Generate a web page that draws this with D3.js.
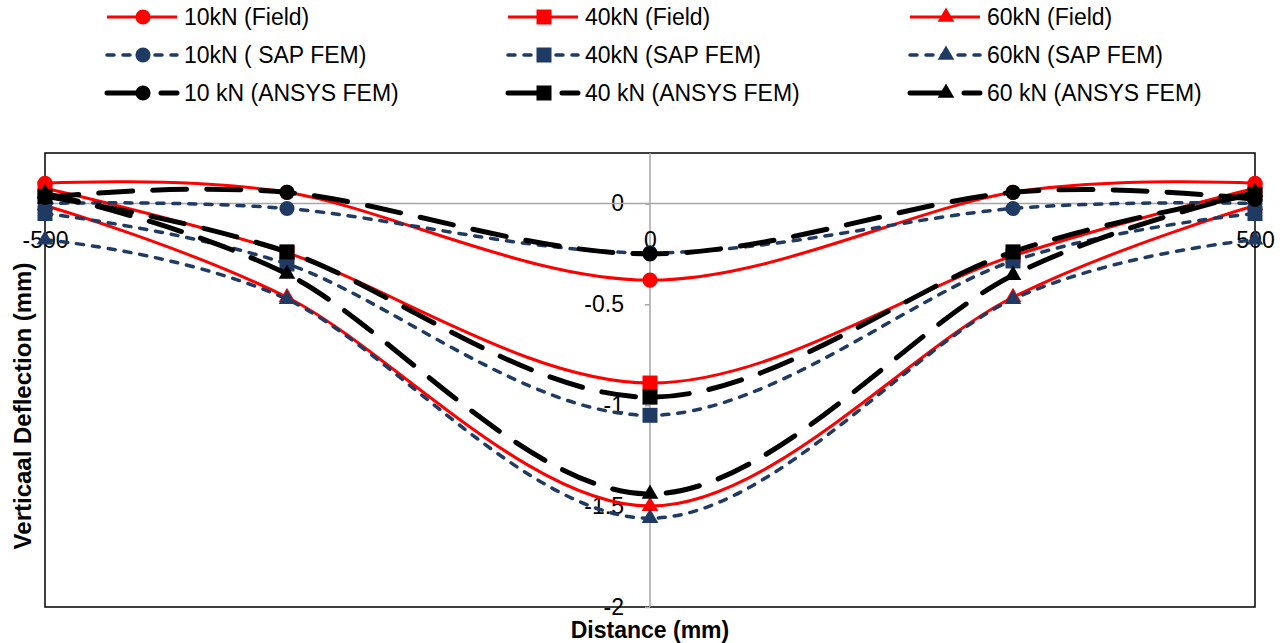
<!DOCTYPE html>
<html>
<head>
<meta charset="utf-8">
<script src="https://cdn.jsdelivr.net/npm/d3@7"></script>
<style>
  html, body { margin: 0; padding: 0; background: #fff; }
  svg { display: block; font-family: "Liberation Sans", Arial, sans-serif; }
</style>
</head>
<body>
<svg id="chart" width="1285" height="643"></svg>
<script>
// Measurement stations along the slab (mm)
const distance = [-500, -300, 0, 300, 500];

// Vertical deflection (mm) at each station
const field10 = [0.10, 0.055, -0.38, 0.055, 0.10];
const field40 = [0.075, -0.245, -0.89, -0.26, 0.075];
const field60 = [-0.01, -0.465, -1.50, -0.465, -0.01];

const sap10 = [0.0, -0.025, -0.245, -0.025, 0.0];
const sap40 = [-0.05, -0.30, -1.05, -0.285, -0.05];
const sap60 = [-0.18, -0.475, -1.56, -0.475, -0.18];

const ansys10 = [0.03, 0.055, -0.25, 0.055, 0.02];
const ansys40 = [0.035, -0.24, -0.96, -0.24, 0.045];
const ansys60 = [0.05, -0.35, -1.44, -0.355, 0.055];

const seriesNames = [
  "10kN (Field)", "40kN (Field)", "60kN (Field)",
  "10kN ( SAP FEM)", "40kN (SAP FEM)", "60kN (SAP FEM)",
  "10 kN (ANSYS FEM)", "40 kN (ANSYS FEM)", "60 kN (ANSYS FEM)"
];
const seriesValues = [field10, field40, field60, sap10, sap40, sap60, ansys10, ansys40, ansys60];

const yTicks = [0, -0.5, -1, -1.5, -2];
const xTicks = [-500, 0, 500];

// Line styles per method, marker per load
const styles = {
  field: { color: "#FF0000", width: 3, dash: null, cap: "butt" },
  sap:   { color: "#1F3A63", width: 3.5, dash: "7,9", cap: "round" },
  ansys: { color: "#000000", width: 5, dash: "34,20", cap: "round" }
};
const methodOf = i => ["field", "sap", "ansys"][Math.floor(i / 3)];
const symbolOf = i => [d3.symbolCircle, d3.symbolSquare, d3.symbolTriangle][i % 3];
const symbolSize = i => [180, 225, 120][i % 3];

const series = seriesNames.map((name, i) => ({
  name,
  style: styles[methodOf(i)],
  symbol: symbolOf(i),
  size: symbolSize(i),
  points: distance.map((d, j) => ({ x: d, y: seriesValues[i][j] }))
}));

const svg = d3.select("#chart");
const plot = { left: 45, right: 1255, top: 153, bottom: 607 };

const x = d3.scaleLinear().domain([-500, 500]).range([plot.left, plot.right]);
const y = d3.scaleLinear().domain([-2, 0.25]).range([plot.bottom, plot.top]);

// Plot area frame
svg.append("rect")
  .attr("x", plot.left).attr("y", plot.top)
  .attr("width", plot.right - plot.left).attr("height", plot.bottom - plot.top)
  .attr("fill", "#fff").attr("stroke", "#000").attr("stroke-width", 1.5);

const fmt = d => String(d);

// Vertical axis through x = 0
const yAxis = svg.append("g")
  .attr("transform", `translate(${x(0)},0)`)
  .call(d3.axisLeft(y).tickValues(yTicks).tickFormat(fmt).tickSize(5).tickPadding(21));
yAxis.select(".domain").attr("stroke", "#A6A6A6").attr("stroke-width", 1.5)
  .attr("d", `M0,${plot.top}V${plot.bottom}`);
yAxis.selectAll(".tick line").attr("stroke", "#A6A6A6").attr("stroke-width", 1.5);
yAxis.selectAll(".tick text").attr("font-size", 23).attr("fill", "#000")
  .attr("font-family", "'Liberation Sans', Arial, sans-serif");

// Horizontal axis through y = 0
const xAxis = svg.append("g")
  .attr("transform", `translate(0,${y(0)})`)
  .call(d3.axisBottom(x).tickValues(xTicks).tickFormat(fmt).tickSize(0));
xAxis.select(".domain").attr("stroke", "#A6A6A6").attr("stroke-width", 1.5)
  .attr("d", `M${plot.left},0H${plot.right}`);
xAxis.selectAll(".tick text").attr("font-size", 23).attr("fill", "#000")
  .attr("y", 37).attr("dy", "0.35em")
  .attr("font-family", "'Liberation Sans', Arial, sans-serif");

// Series lines and markers
const line = d3.line()
  .x(d => x(d.x)).y(d => y(d.y))
  .curve(d3.curveCardinal.tension(0));

const seriesG = svg.append("g");
series.forEach(s => {
  const g = seriesG.append("g");
  g.append("path")
    .attr("d", line(s.points))
    .attr("fill", "none")
    .attr("stroke", s.style.color)
    .attr("stroke-width", s.style.width)
    .attr("stroke-dasharray", s.style.dash)
    .attr("stroke-linecap", s.style.cap);
  g.selectAll("path.marker")
    .data(s.points)
    .join("path")
    .attr("class", "marker")
    .attr("transform", d => `translate(${x(d.x)},${y(d.y)})`)
    .attr("d", d3.symbol().type(s.symbol).size(s.size))
    .attr("fill", s.style.color);
});

// Legend: three columns, one row per method
const legendCols = [107, 508, 910];
const legendRows = [17, 55, 93];
const legend = svg.append("g");
series.forEach((s, i) => {
  const cx = legendCols[i % 3];
  const cy = legendRows[Math.floor(i / 3)];
  const g = legend.append("g").attr("transform", `translate(${cx},${cy})`);
  g.append("line")
    .attr("x1", 0).attr("x2", 70).attr("y1", 0).attr("y2", 0)
    .attr("stroke", s.style.color)
    .attr("stroke-width", s.style.width)
    .attr("stroke-dasharray", s.style.dash)
    .attr("stroke-linecap", s.style.cap);
  g.append("path")
    .attr("transform", "translate(36,0)")
    .attr("d", d3.symbol().type(s.symbol).size(s.size))
    .attr("fill", s.style.color);
  g.append("text")
    .attr("x", 77).attr("y", 0).attr("dy", "0.35em")
    .attr("font-size", 23).attr("fill", "#000")
    .text(s.name);
});

// Axis titles
svg.append("text")
  .attr("x", 650).attr("y", 638)
  .attr("text-anchor", "middle")
  .attr("font-size", 23).attr("font-weight", "bold")
  .text("Distance (mm)");

svg.append("text")
  .attr("transform", "translate(31,406) rotate(-90)")
  .attr("text-anchor", "middle")
  .attr("font-size", 24).attr("font-weight", "bold")
  .text("Verticaal Deflection (mm)");
</script>
</body>
</html>
